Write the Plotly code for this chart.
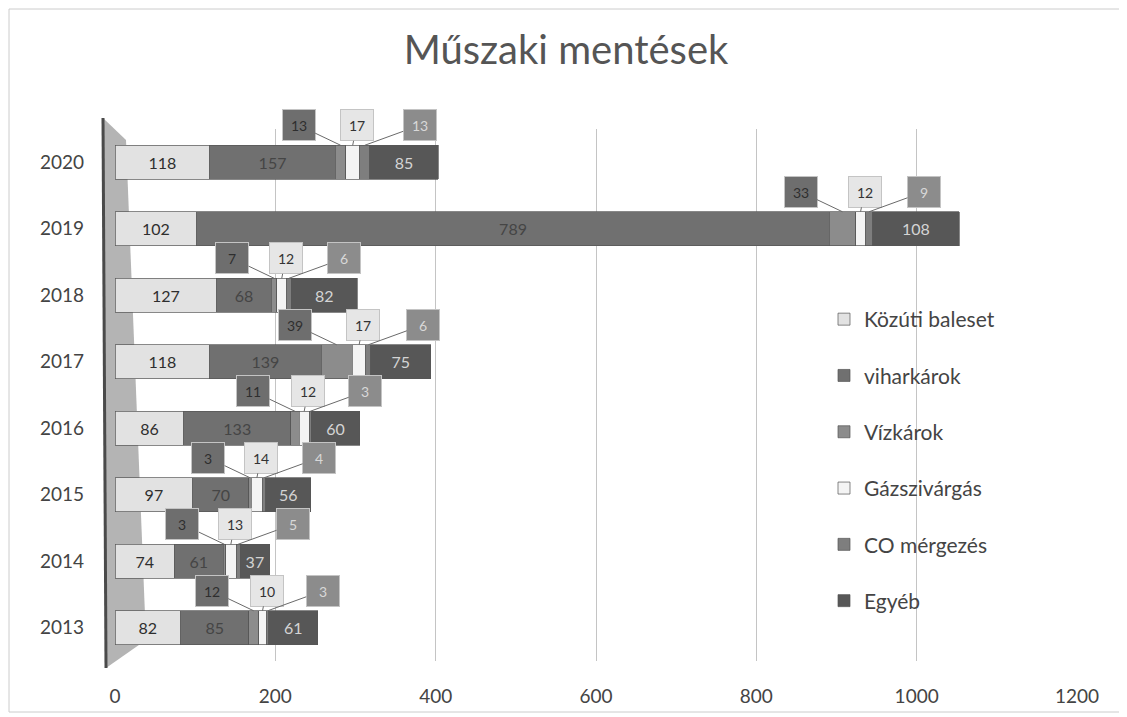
import numpy as np
import plotly.graph_objects as go

years = [2013, 2014, 2015, 2016, 2017, 2018, 2019, 2020]
series_names = ["Közúti baleset", "viharkárok", "Vízkárok", "Gázszivárgás", "CO mérgezés", "Egyéb"]
kozuti = [82, 74, 97, 86, 118, 127, 102, 118]
vihar = [85, 61, 70, 133, 139, 68, 789, 157]
vizkar = [12, 3, 3, 11, 39, 7, 33, 13]
gaz = [10, 13, 14, 12, 17, 12, 12, 17]
co = [3, 5, 4, 3, 6, 6, 9, 13]
egyeb = [61, 37, 56, 60, 75, 82, 108, 85]
x_ticks = [0, 200, 400, 600, 800, 1000, 1200]

values = [kozuti, vihar, vizkar, gaz, co, egyeb]
colors = ["#e2e2e2", "#707070", "#8c8c8c", "#f4f4f4", "#7e7e7e", "#575757"]
text_colors = ["#2e2e2e", "#454545", "#333333", "#333333", "#cccccc", "#d4d4d4"]
inside_text = [True, True, False, False, False, True]

BAR_W = 0.51
fig = go.Figure()
for name, vals, col, tcol, show in zip(series_names, values, colors, text_colors, inside_text):
    fig.add_trace(go.Bar(
        y=years, x=vals, name=name, orientation="h", width=BAR_W,
        marker=dict(color=col, line=dict(color="#555555", width=0.7)),
        text=[str(v) for v in vals] if show else None,
        textposition="inside" if show else "none",
        insidetextanchor="middle",
        textfont=dict(size=16, color=tcol, family="Lato"),
        legendgroup=name,
        hoverinfo="x+name",
    ))

# callout labels for the three thin series
arr = np.array(values)
cum = np.cumsum(arr, axis=0)
callouts = [
    (2, "#6e6e6e", "#2e2e2e", -42, -20),
    (3, "#e6e6e6", "#333333", 4, -20),
    (4, "#8c8c8c", "#d8d8d8", 55, -20),
]
annotations = []
for idx, bg, fc, ax, ay in callouts:
    for i, yr in enumerate(years):
        v = arr[idx][i]
        center = cum[idx][i] - v / 2.0
        annotations.append(dict(
            x=center, y=yr + BAR_W / 2, xref="x", yref="y",
            text=str(v), showarrow=True, arrowhead=0, arrowwidth=1,
            arrowcolor="#6a6a6a", ax=ax, ay=ay, standoff=0,
            bgcolor=bg, bordercolor="#c4c4c4", borderwidth=1, borderpad=3,
            width=26, height=24,
            font=dict(size=14, color=fc, family="Lato"),
        ))

# page body has an 8px margin: the figure starts at screen (8, 8)
OFF = 8
W, H = 1127 - OFF, 717 - OFF
L, R, T, B = 115 - OFF, 50, 129 - OFF, 56
pw, ph = W - L - R, H - T - B
def px(xs):
    return (xs - OFF - L) / pw
def py(ys):
    return (H - B - (ys - OFF)) / ph

shapes = [
    # outer frame
    dict(type="rect", xref="paper", yref="paper", x0=px(9), x1=px(1121), y0=py(712), y1=py(9),
         line=dict(color="#cccccc", width=1), fillcolor="rgba(0,0,0,0)", layer="below"),
    # 3D side wall
    dict(type="path", xref="paper", yref="paper",
         path=f"M {px(103)},{py(118)} L {px(126)},{py(140)} L {px(146)},{py(640)} L {px(106)},{py(668)} Z",
         fillcolor="#b4b4b4", line=dict(width=0), layer="below"),
    dict(type="line", xref="paper", yref="paper", x0=px(103), x1=px(106), y0=py(118), y1=py(668),
         line=dict(color="#4a4a4a", width=3), layer="below"),
]

fig.update_layout(
    width=W, height=H,
    barmode="stack",
    paper_bgcolor="white", plot_bgcolor="white",
    margin=dict(l=L, r=R, t=T, b=B, autoexpand=False),
    title=dict(text="Műszaki mentések", x=(566 - OFF) / W, xanchor="center", xref="container",
               y=1 - (50 - OFF) / H, yanchor="middle",
               font=dict(size=40, color="#555555", family="Lato")),
    font=dict(family="Lato", color="#444444"),
    xaxis=dict(range=[0, 1200], tickvals=x_ticks, ticktext=[str(t) for t in x_ticks],
               showgrid=True, gridcolor="#c4c4c4", gridwidth=1, zeroline=False,
               showline=False, automargin=False,
               tickfont=dict(size=19, color="#444444"), ticklabelstandoff=22),
    yaxis=dict(range=[2012.5, 2020.5], tickvals=years, ticktext=[str(y) for y in years],
               showgrid=False, zeroline=False, showline=False, automargin=False,
               tickfont=dict(size=19, color="#444444"), ticklabelstandoff=30),
    legend=dict(x=px(824), y=py(299), xanchor="left", yanchor="top",
                traceorder="grouped", tracegroupgap=26, bgcolor="rgba(0,0,0,0)",
                font=dict(size=21, color="#444444", family="Lato"),
                itemwidth=30),
    annotations=annotations,
    shapes=shapes,
)

fig.write_html("out.html")
